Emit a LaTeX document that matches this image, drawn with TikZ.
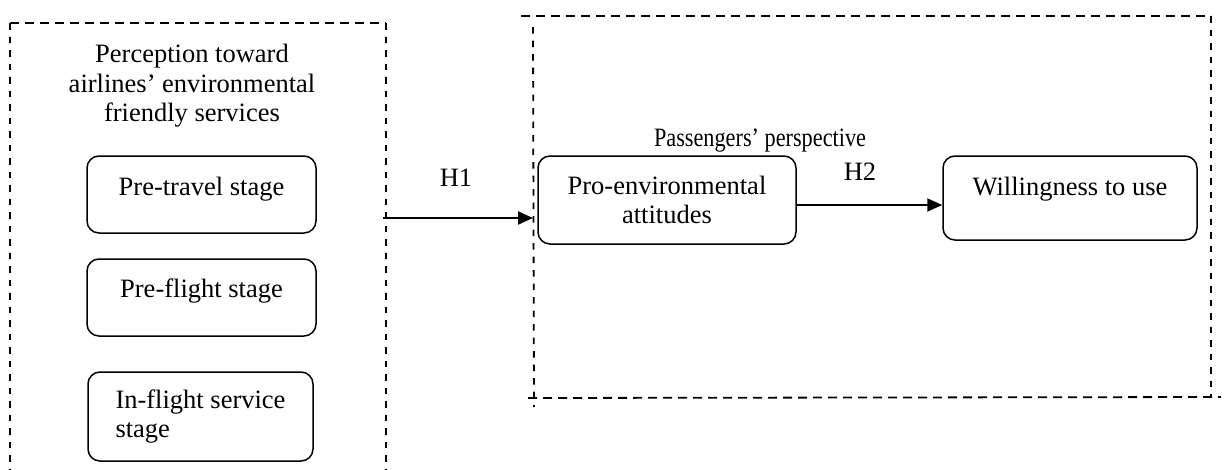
\documentclass[tikz,border=0pt]{standalone}
\usepackage{fontspec}
\setmainfont{Liberation Serif}
\usetikzlibrary{arrows.meta}
\begin{document}
\begin{tikzpicture}[x=1pt,y=-1pt,
  every node/.style={font=\fontsize{26.5}{29.5}\selectfont},
  stagebox/.style={draw, line width=1.5pt, rounded corners=12pt, inner sep=0pt, align=center},
  hdash/.style={line width=1.8pt, dash pattern=on 9pt off 6pt},
  vdash/.style={line width=1.8pt, dash pattern=on 6.5pt off 7pt},
  link/.style={line width=2pt, -{Triangle[length=15pt,width=13pt]}}]
\useasboundingbox (0,0) rectangle (1224,469);
% left frame
\coordinate (L1) at (10,23);
\coordinate (L2) at (386,23);
\coordinate (L3) at (10,469);
\coordinate (L4) at (386,469);
\draw[hdash] (L1) -- (L2);
\draw[vdash] (L1) -- (L3);
\draw[vdash] (L2) -- (L4);
% right frame
\coordinate (RtL) at (521,16);
\coordinate (RtR) at (1211,16);
\coordinate (RrB) at (1211,397);
\coordinate (RbL) at (528,398);
\coordinate (RbR) at (1221,397);
\coordinate (RlT) at (533,27);
\coordinate (RlB) at (534,407);
\draw[hdash] (RtL) -- (RtR);
\draw[vdash] (RtR) -- (RrB);
\draw[hdash] (RbL) -- (RbR);
\draw[vdash] (RlT) -- (RlB);
% texts
\node[align=center] (head) at (192,86) {Perception toward\\airlines’ environmental\\friendly services};
\node (pers) at (760,141) {\scalebox{0.84}[1]{Passengers’ perspective}};
% boxes
\node[stagebox, minimum width=229pt, text height=39pt, text depth=38pt] (pretravel) at (201.5,194.5) {Pre-travel stage};
\node[stagebox, minimum width=229pt, text height=38pt, text depth=39pt] (preflight) at (201.5,297.5) {Pre-flight stage};
\node[stagebox, align=left, minimum width=225pt, minimum height=89pt] (inflight) at (200.5,416.5) {In-flight service\\stage};
\node[stagebox, minimum width=258pt, minimum height=88pt] (pro) at (667,200) {Pro-environmental\\attitudes};
\node[stagebox, minimum width=254pt, text height=39pt, text depth=45pt] (will) at (1070,198) {Willingness to use};
% arrows
\coordinate (h1start) at (383,218);
\coordinate (h1end) at (533,218);
\draw[link] (h1start) -- (h1end);
\node (h1) at (456,178) {H1};
\coordinate (h2y) at (0,205);
\draw[link] (pro.east |- h2y) -- (will.west |- h2y);
\node (h2) at (860,172) {H2};
\end{tikzpicture}
\end{document}
